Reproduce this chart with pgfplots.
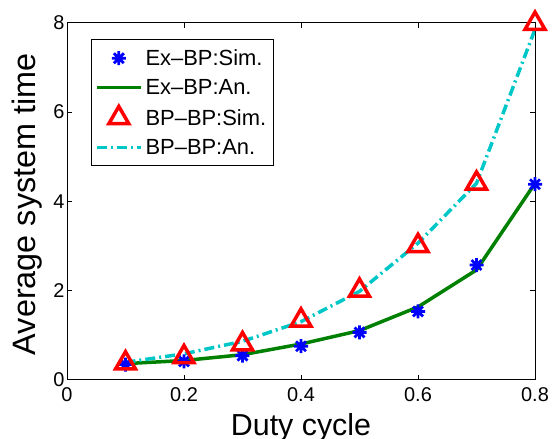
\documentclass[border=0pt]{standalone}
\usepackage{fontspec}
\setmainfont{Liberation Sans}
\usepackage{pgfplots}
\pgfplotsset{compat=1.18}
\definecolor{mgreen}{rgb}{0,0.5,0}
\definecolor{mcyan}{rgb}{0,0.78,0.78}
\pgfdeclareplotmark{mstar}{%
  \pgfpathmoveto{\pgfqpoint{-\pgfplotmarksize}{0pt}}\pgfpathlineto{\pgfqpoint{\pgfplotmarksize}{0pt}}%
  \pgfpathmoveto{\pgfqpoint{0pt}{-\pgfplotmarksize}}\pgfpathlineto{\pgfqpoint{0pt}{\pgfplotmarksize}}%
  \pgfpathmoveto{\pgfqpoint{-0.707\pgfplotmarksize}{-0.707\pgfplotmarksize}}\pgfpathlineto{\pgfqpoint{0.707\pgfplotmarksize}{0.707\pgfplotmarksize}}%
  \pgfpathmoveto{\pgfqpoint{-0.707\pgfplotmarksize}{0.707\pgfplotmarksize}}\pgfpathlineto{\pgfqpoint{0.707\pgfplotmarksize}{-0.707\pgfplotmarksize}}%
  \pgfusepathqstroke}
\begin{document}
\begin{tikzpicture}
\begin{axis}[
  scale only axis,
  width=468bp, height=357bp,
  xmin=0, xmax=0.8, ymin=0, ymax=8,
  xtick={0,0.2,0.4,0.6,0.8},
  ytick={0,2,4,6,8},
  xticklabels={0,0.2,0.4,0.6,0.8},
  yticklabels={0,2,4,6,8},
  tick align=inside,
  major tick length=5bp,
  axis line style={line width=0.8bp},
  every tick/.style={line width=0.8bp, black},
  /pgf/number format/assume math mode=true,
  tick label style={font=\fontsize{20}{24}\selectfont},
  xticklabel style={yshift=-4bp},
  yticklabel style={xshift=1bp},
  xlabel={Duty cycle},
  ylabel={Average system time},
  xlabel style={font=\fontsize{30.5}{36}\selectfont, at={(axis description cs:0.5,0)}, anchor=north, yshift=-30bp},
  ylabel style={font=\fontsize{32.5}{38}\selectfont, at={(axis description cs:0,0.5)}, anchor=south, yshift=21.5bp, xshift=-3bp},
  legend cell align=left,
  legend style={at={(0.0506,0.954)}, anchor=north west,
    font=\fontsize{22}{26}\selectfont, draw=black, line width=0.8bp,
    inner xsep=4bp, inner ysep=8bp, row sep=8.5bp,
    nodes={inner xsep=3bp}},
  legend image code/.code={\draw[mark repeat=2,mark phase=2,#1] plot coordinates {(0bp,0bp)(22bp,0bp)(44bp,0bp)};},
]
\coordinate (sw) at (rel axis cs:0,0);
\coordinate (ne) at (rel axis cs:1,1);
\addplot[only marks, mark=mstar, mark size=7bp, blue, line width=2.8bp] coordinates {
(0.1,0.34) (0.2,0.41) (0.3,0.54) (0.4,0.75) (0.5,1.06) (0.6,1.53) (0.7,2.57) (0.8,4.38)};
\addlegendentry{Ex--BP:Sim.}
\addplot[mgreen, line width=3.5bp] coordinates {
(0.1,0.36) (0.2,0.43) (0.3,0.56) (0.4,0.80) (0.5,1.10) (0.6,1.63) (0.7,2.46) (0.8,4.40)};
\addlegendentry{Ex--BP:An.}
\addplot[only marks, mark=triangle, mark size=11.5bp, red, line width=3.5bp] coordinates {
(0.1,0.37) (0.2,0.51) (0.3,0.80) (0.4,1.33) (0.5,2.00) (0.6,3.00) (0.7,4.40) (0.8,7.98)};
\addlegendentry{BP--BP:Sim.}
\addplot[mcyan, line width=3.5bp, dash pattern=on 10bp off 4bp on 2bp off 4bp] coordinates {
(0.1,0.39) (0.2,0.58) (0.3,0.86) (0.4,1.30) (0.5,1.98) (0.6,3.06) (0.7,4.40) (0.8,7.85)};
\addlegendentry{BP--BP:An.}
\end{axis}
\pgfresetboundingbox
\path ([shift={(-67bp,-59bp)}]sw) rectangle ([shift={(19bp,22.7bp)}]ne);
\end{tikzpicture}
\end{document}
